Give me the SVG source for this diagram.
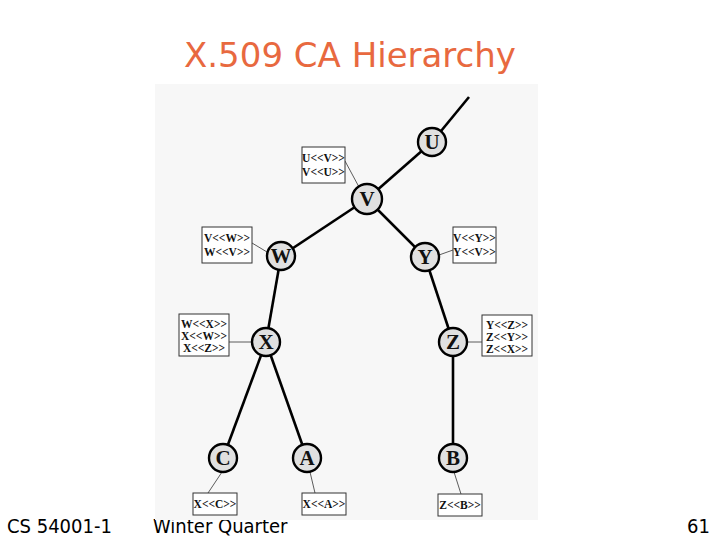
<svg xmlns="http://www.w3.org/2000/svg" width="720" height="540" viewBox="0 0 720 540">
<style>
.title{font-family:"DejaVu Sans",Verdana,sans-serif;font-size:34px;fill:#e8693f}
.foot{font-family:"DejaVu Sans Condensed","DejaVu Sans",sans-serif;font-size:20px;fill:#000}
.edge{stroke:#000;stroke-width:2.6;fill:none}
.lead{stroke:#333;stroke-width:0.8;fill:none}
.node circle{fill:#e0e0e0;stroke:#000;stroke-width:2.4}
.node text{font-family:"Liberation Serif","Times New Roman",serif;font-weight:bold;font-size:21px;text-anchor:middle;fill:#111}
.box rect{fill:#fff;stroke:#333;stroke-width:1}
.box text{font-family:"Liberation Serif","Times New Roman",serif;font-weight:bold;font-size:11.5px;text-anchor:middle;fill:#111}
</style>
<rect width="720" height="540" fill="#fff"/>
<text class="title" x="350" y="67" text-anchor="middle">X.509 CA Hierarchy</text>
<text class="foot" x="7" y="533">CS 54001-1</text>
<text class="foot" x="153" y="533">Winter Quarter</text>
<text class="foot" x="710" y="533" text-anchor="end">61</text>
<rect x="155" y="84" width="383" height="436" fill="#f7f7f7"/>
<g id="connectors">
<line class="edge" x1="469" y1="97" x2="432" y2="142"/>
<line class="edge" x1="432" y1="142" x2="367" y2="199"/>
<line class="edge" x1="367" y1="199" x2="281" y2="256"/>
<line class="edge" x1="367" y1="199" x2="425" y2="257"/>
<line class="edge" x1="281" y1="256" x2="266" y2="342"/>
<line class="edge" x1="425" y1="257" x2="453" y2="342"/>
<line class="edge" x1="266" y1="342" x2="223" y2="458"/>
<line class="edge" x1="266" y1="342" x2="307" y2="458"/>
<line class="edge" x1="453" y1="342" x2="453" y2="458"/>
<line class="lead" x1="345" y1="161" x2="359" y2="187"/>
<line class="lead" x1="252" y1="243" x2="267" y2="252"/>
<line class="lead" x1="439" y1="255" x2="453" y2="250"/>
<line class="lead" x1="229" y1="342" x2="252" y2="342"/>
<line class="lead" x1="467" y1="342" x2="482" y2="342"/>
<line class="lead" x1="208" y1="493" x2="222" y2="472"/>
<line class="lead" x1="315" y1="493" x2="310" y2="472"/>
<line class="lead" x1="461" y1="494" x2="454" y2="472"/>
</g>
<g id="box-UV" class="box"><rect x="302" y="147" width="43" height="36"/><text x="323.5" y="162">U&lt;&lt;V&gt;&gt;</text><text x="323.5" y="176">V&lt;&lt;U&gt;&gt;</text></g>
<g id="box-VW" class="box"><rect x="202" y="227" width="50" height="36"/><text x="227" y="242">V&lt;&lt;W&gt;&gt;</text><text x="227" y="256">W&lt;&lt;V&gt;&gt;</text></g>
<g id="box-VY" class="box"><rect x="453" y="227" width="43" height="36"/><text x="474.5" y="242">V&lt;&lt;Y&gt;&gt;</text><text x="474.5" y="256">Y&lt;&lt;V&gt;&gt;</text></g>
<g id="box-WX" class="box"><rect x="179" y="314" width="50" height="42"/><text x="204" y="328">W&lt;&lt;X&gt;&gt;</text><text x="204" y="340">X&lt;&lt;W&gt;&gt;</text><text x="204" y="352">X&lt;&lt;Z&gt;&gt;</text></g>
<g id="box-YZ" class="box"><rect x="482" y="315" width="50" height="41"/><text x="507" y="329">Y&lt;&lt;Z&gt;&gt;</text><text x="507" y="341">Z&lt;&lt;Y&gt;&gt;</text><text x="507" y="353">Z&lt;&lt;X&gt;&gt;</text></g>
<g id="box-XC" class="box"><rect x="193" y="493" width="44" height="22"/><text x="215" y="508">X&lt;&lt;C&gt;&gt;</text></g>
<g id="box-XA" class="box"><rect x="302" y="493" width="44" height="22"/><text x="324" y="508">X&lt;&lt;A&gt;&gt;</text></g>
<g id="box-ZB" class="box"><rect x="438" y="494" width="44" height="22"/><text x="460" y="509">Z&lt;&lt;B&gt;&gt;</text></g>
<g id="node-U" class="node"><circle cx="432" cy="142" r="14"/><text x="432" y="149">U</text></g>
<g id="node-V" class="node"><circle cx="367" cy="199" r="15"/><text x="367" y="206">V</text></g>
<g id="node-W" class="node"><circle cx="281" cy="256" r="14"/><text x="281" y="263">W</text></g>
<g id="node-Y" class="node"><circle cx="425" cy="257" r="14"/><text x="425" y="264">Y</text></g>
<g id="node-X" class="node"><circle cx="266" cy="342" r="14"/><text x="266" y="349">X</text></g>
<g id="node-Z" class="node"><circle cx="453" cy="342" r="14"/><text x="453" y="349">Z</text></g>
<g id="node-C" class="node"><circle cx="223" cy="458" r="14"/><text x="223" y="465">C</text></g>
<g id="node-A" class="node"><circle cx="307" cy="458" r="14"/><text x="307" y="465">A</text></g>
<g id="node-B" class="node"><circle cx="453" cy="458" r="14"/><text x="453" y="465">B</text></g>
</svg>
